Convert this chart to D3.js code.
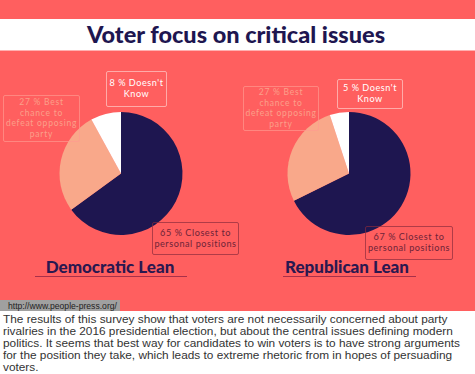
<!DOCTYPE html>
<html><head><meta charset="utf-8">
<script src="https://cdn.jsdelivr.net/npm/d3@7/dist/d3.min.js"></script>
<style>
html,body{margin:0;padding:0;background:#fff;overflow:hidden;}
svg{display:block;}
</style></head>
<body>
<script>
const title = "Voter focus on critical issues";
const categories = ["Closest to personal positions", "Best chance to defeat opposing party", "Doesn't Know"];
const groups = ["Democratic Lean", "Republican Lean"];
const demValues = [65, 27, 8];
const repValues = [67, 27, 5];
const sourceText = "http://www.people-press.org/";
const bodyLines = [
  "The results of this survey show that voters are not necessarily concerned about party",
  "rivalries in the 2016 presidential election, but about the central issues defining modern",
  "politics. It seems that best way for candidates to win voters is to have strong arguments",
  "for the position they take, which leads to extreme rhetoric from in hopes of persuading",
  "voters."
];

const W = 475, H = 374;
const coral = "#FF5F5F", navy = "#1E1650", peach = "#F9A88A";
const sliceColors = [navy, peach, "#FFFFFF"];

const svg = d3.select("body").append("svg").attr("width", W).attr("height", H);
svg.append("rect").attr("width", W).attr("height", H).attr("fill", "#fff");
svg.append("rect").attr("x",0).attr("y",0).attr("width",W).attr("height",311).attr("fill",coral);
svg.append("rect").attr("x",0).attr("y",19).attr("width",W).attr("height",31).attr("fill","#fff");
svg.append("rect").attr("x",0).attr("y",50).attr("width",W).attr("height",1).attr("fill","#FFB0B0");
svg.append("text").attr("x", 236).attr("y", 43).attr("text-anchor","middle")
  .attr("font-family","Lato, 'DejaVu Sans', sans-serif").attr("font-weight",900)
  .attr("font-size",23.5).attr("fill",navy).text(title);

const pie = d3.pie().sort(null).value(d => d);
const arc = d3.arc().innerRadius(0).outerRadius(61.5);

const layout = [
  {values: demValues, cx: 121, cy: 173.5, name: groups[0],
   boxes: [
     {x:152,y:222,w:86,h:32, color:"#6E2338", border:"#8A2A3C"},
     {x:3,y:95,w:76,h:46, color:"#FBA08A", border:"#FF9A90"},
     {x:106,y:71,w:60,h:35, color:"#FFFFFF", border:"#FFD0CC"}
   ],
   lx: 110, ly: 273, ux1: 35, ux2: 187},
  {values: repValues, cx: 349, cy: 173.5, name: groups[1],
   boxes: [
     {x:365,y:226,w:87,h:33, color:"#6E2338", border:"#8A2A3C"},
     {x:243,y:86,w:75,h:44, color:"#FBA08A", border:"#FF9A90"},
     {x:337,y:79,w:65,h:29, color:"#FFFFFF", border:"#FFD0CC"}
   ],
   lx: 347, ly: 273, ux1: 283, ux2: 416}
];

function wrapLabel(v, i) {
  if (i === 0) return [`${v} % Closest to`, "personal positions"];
  if (i === 1) return [`${v} % Best`, "chance to", "defeat opposing", "party"];
  return [`${v} % Doesn't`, "Know"];
}

layout.forEach(p => {
  const g = svg.append("g").attr("transform", `translate(${p.cx},${p.cy})`);
  g.selectAll("path").data(pie(p.values)).join("path")
    .attr("d", arc).attr("fill", (d,i) => sliceColors[i]);
  p.boxes.forEach((b, i) => {
    svg.append("rect").attr("x", b.x+0.5).attr("y", b.y+0.5).attr("width", b.w).attr("height", b.h)
      .attr("rx", 1.5).attr("fill","none").attr("stroke", b.border).attr("stroke-width", 0.8).attr("opacity",0.85);
    const lines = wrapLabel(p.values[i], i);
    const fs = i === 1 ? 8.5 : 9.1;
    const lh = i === 1 ? 10.4 : 11.2;
    const ls = i === 1 ? 0.75 : 0.55;
    const t0 = b.y + b.h/2 - (lines.length-1)*lh/2 + fs*0.36;
    svg.append("text").attr("text-anchor","middle")
      .attr("font-family","Lato, 'Open Sans', sans-serif").attr("font-size",fs).attr("font-weight",400)
      .attr("letter-spacing", ls)
      .attr("fill", b.color)
      .selectAll("tspan").data(lines).join("tspan")
      .attr("x", b.x + b.w/2 + 0.5).attr("y", (d,k) => t0 + k*lh).text(d => d);
  });
  svg.append("text").attr("x", p.lx).attr("y", p.ly).attr("text-anchor","middle")
    .attr("font-family","Lato, 'DejaVu Sans', sans-serif").attr("font-weight",900)
    .attr("font-size",17).attr("fill","#2A1850").text(p.name);
  svg.append("line").attr("x1", p.ux1).attr("x2", p.ux2).attr("y1", p.ly+3.5).attr("y2", p.ly+3.5)
    .attr("stroke","#A8304A").attr("stroke-width",1.2);
});

svg.append("rect").attr("x",0).attr("y",300).attr("width",120).attr("height",11).attr("fill","#A0A0A0");
svg.append("text").attr("x",8).attr("y",308.5).attr("font-family","'Liberation Sans', Arial, sans-serif")
  .attr("font-size",8.6).attr("fill","#222").text(sourceText);

const body = svg.append("text").attr("font-family","'Liberation Sans', Arial, sans-serif").attr("font-size",13)
  .attr("fill","#333");
body.selectAll("tspan").data(bodyLines).join("tspan")
  .attr("x",3).attr("y",(d,i)=>323 + i*12).text(d=>d);
// fit first line to reference width (~445px)
const firstLen = body.select("tspan").node().getComputedTextLength();
body.attr("font-size", 13 * 445 / firstLen);
</script>
</body></html>
